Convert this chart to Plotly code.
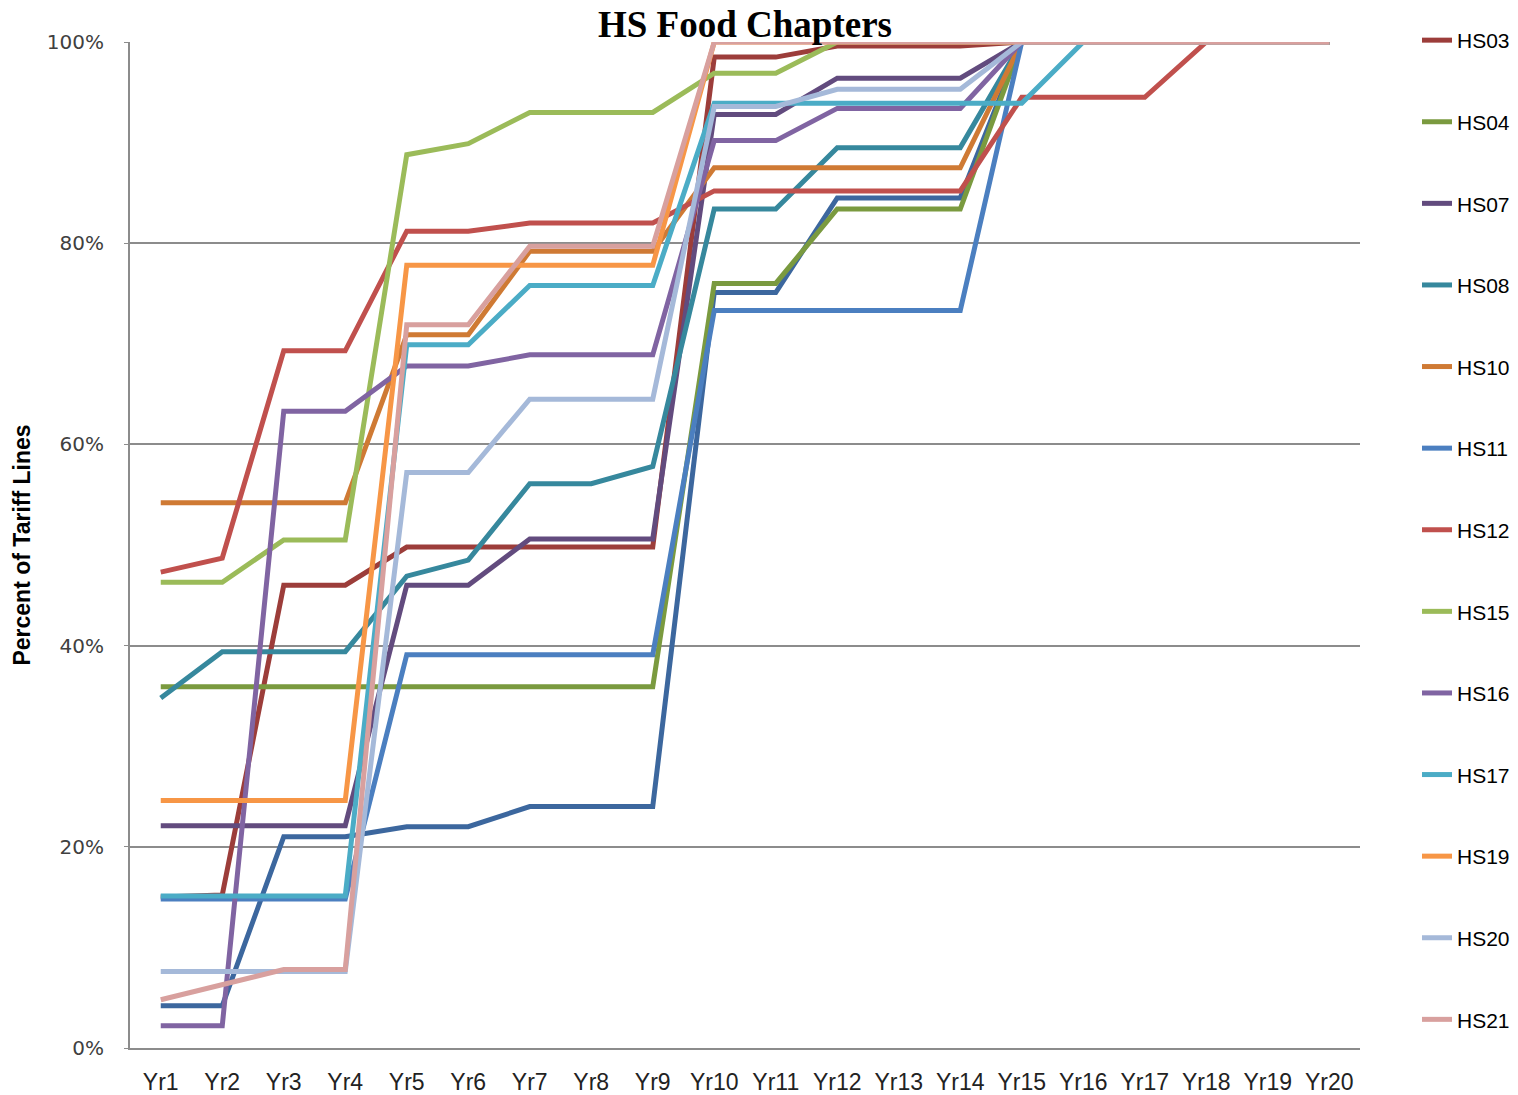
import plotly.graph_objects as go

years = ["Yr1", "Yr2", "Yr3", "Yr4", "Yr5", "Yr6", "Yr7", "Yr8", "Yr9", "Yr10",
         "Yr11", "Yr12", "Yr13", "Yr14", "Yr15", "Yr16", "Yr17", "Yr18", "Yr19", "Yr20"]

HS02 = [4.2, 4.2, 21.0, 21.0, 22.0, 22.0, 24.0, 24.0, 24.0, 75.1, 75.1, 84.5, 84.5, 84.5, 100, 100, 100, 100, 100, 100]
HS03 = [15.0, 15.2, 46.0, 46.0, 49.8, 49.8, 49.8, 49.8, 49.8, 98.5, 98.5, 99.6, 99.6, 99.6, 100, 100, 100, 100, 100, 100]
HS04 = [35.9, 35.9, 35.9, 35.9, 35.9, 35.9, 35.9, 35.9, 35.9, 76.0, 76.0, 83.4, 83.4, 83.4, 100, 100, 100, 100, 100, 100]
HS07 = [22.1, 22.1, 22.1, 22.1, 46.0, 46.0, 50.6, 50.6, 50.6, 92.8, 92.8, 96.4, 96.4, 96.4, 100, 100, 100, 100, 100, 100]
HS08 = [34.8, 39.4, 39.4, 39.4, 46.9, 48.5, 56.1, 56.1, 57.8, 83.4, 83.4, 89.5, 89.5, 89.5, 100, 100, 100, 100, 100, 100]
HS10 = [54.2, 54.2, 54.2, 54.2, 70.9, 70.9, 79.2, 79.2, 79.2, 87.5, 87.5, 87.5, 87.5, 87.5, 100, 100, 100, 100, 100, 100]
HS11 = [14.8, 14.8, 14.8, 14.8, 39.1, 39.1, 39.1, 39.1, 39.1, 73.3, 73.3, 73.3, 73.3, 73.3, 100, 100, 100, 100, 100, 100]
HS12 = [47.3, 48.7, 69.3, 69.3, 81.2, 81.2, 82.0, 82.0, 82.0, 85.2, 85.2, 85.2, 85.2, 85.2, 94.5, 94.5, 94.5, 100, 100, 100]
HS15 = [46.3, 46.3, 50.5, 50.5, 88.8, 89.9, 93.0, 93.0, 93.0, 96.9, 96.9, 100, 100, 100, 100, 100, 100, 100, 100, 100]
HS16 = [2.2, 2.2, 63.3, 63.3, 67.8, 67.8, 68.9, 68.9, 68.9, 90.2, 90.2, 93.4, 93.4, 93.4, 100, 100, 100, 100, 100, 100]
HS17 = [15.1, 15.1, 15.1, 15.1, 69.9, 69.9, 75.8, 75.8, 75.8, 93.9, 93.9, 93.9, 93.9, 93.9, 93.9, 100, 100, 100, 100, 100]
HS19 = [24.6, 24.6, 24.6, 24.6, 77.8, 77.8, 77.8, 77.8, 77.8, 100, 100, 100, 100, 100, 100, 100, 100, 100, 100, 100]
HS20 = [7.6, 7.6, 7.6, 7.6, 57.2, 57.2, 64.5, 64.5, 64.5, 93.6, 93.6, 95.3, 95.3, 95.3, 100, 100, 100, 100, 100, 100]
HS21 = [4.8, 6.3, 7.8, 7.8, 71.9, 71.9, 79.7, 79.7, 79.7, 100, 100, 100, 100, 100, 100, 100, 100, 100, 100, 100]

series = [
    ("HS02", HS02, "#3C679E", False),
    ("HS03", HS03, "#9C3D3A", True),
    ("HS04", HS04, "#7A9A3F", True),
    ("HS07", HS07, "#624B7E", True),
    ("HS08", HS08, "#36889D", True),
    ("HS10", HS10, "#CF7A34", True),
    ("HS11", HS11, "#4B7FC0", True),
    ("HS12", HS12, "#C0504D", True),
    ("HS15", HS15, "#9BBB59", True),
    ("HS16", HS16, "#8064A2", True),
    ("HS17", HS17, "#4BACC6", True),
    ("HS19", HS19, "#F79646", True),
    ("HS20", HS20, "#A5B9D9", True),
    ("HS21", HS21, "#D8A09E", True),
]

fig = go.Figure()
for name, vals, color, show in series:
    fig.add_trace(go.Scatter(
        x=years, y=[v / 100 for v in vals], name=name, mode="lines",
        line=dict(color=color, width=5),
        showlegend=show, legendgroup=name,
    ))

fig.update_layout(
    width=1518, height=1095,
    margin=dict(l=130, r=158, t=42, b=47, autoexpand=False),
    paper_bgcolor="white", plot_bgcolor="white",
    title=dict(text="<b>HS Food Chapters</b>", x=(130 + 1360) / 2 / 1518, xanchor="center",
               y=1 - 24 / 1095, yanchor="middle",
               font=dict(family="Liberation Serif, Times New Roman, serif", size=37, color="black")),
    showlegend=True,
    legend=dict(xref="container", yref="container", x=1417 / 1518, xanchor="left",
                y=1 - 20 / 1095, yanchor="top", maxheight=1095,
                font=dict(family="Liberation Sans, Arial, sans-serif", size=21, color="black"),
                tracegroupgap=51.3, traceorder="grouped", bgcolor="rgba(0,0,0,0)"),
    font=dict(family="Liberation Sans, Arial, sans-serif"),
)

fig.update_yaxes(
    range=[0, 1], tickformat=".0%", dtick=0.2,
    showgrid=True, gridcolor="#8C8C8C", gridwidth=1.5,
    showline=True, linecolor="#8C8C8C", linewidth=2,
    ticks="outside", ticklen=4, tickcolor="#8C8C8C",
    tickfont=dict(family="DejaVu Sans, Verdana, sans-serif", size=20, color="#404040"),
    ticklabelstandoff=16,
    zeroline=False, automargin=False,
    title=dict(text="<b>Percent of Tariff Lines</b>", standoff=10,
               font=dict(family="Liberation Sans, Arial, sans-serif", size=23, color="black")),
)
fig.update_xaxes(
    range=[-0.5, 19.5],
    showline=True, linecolor="#8C8C8C", linewidth=2, showgrid=False,
    tickfont=dict(family="Liberation Sans, Arial, sans-serif", size=23, color="#222222"),
    ticks="", ticklabelstandoff=12, automargin=False,
)

fig.write_html("out.html", config={"displayModeBar": False},
               post_script="document.body.style.margin='0px';")
